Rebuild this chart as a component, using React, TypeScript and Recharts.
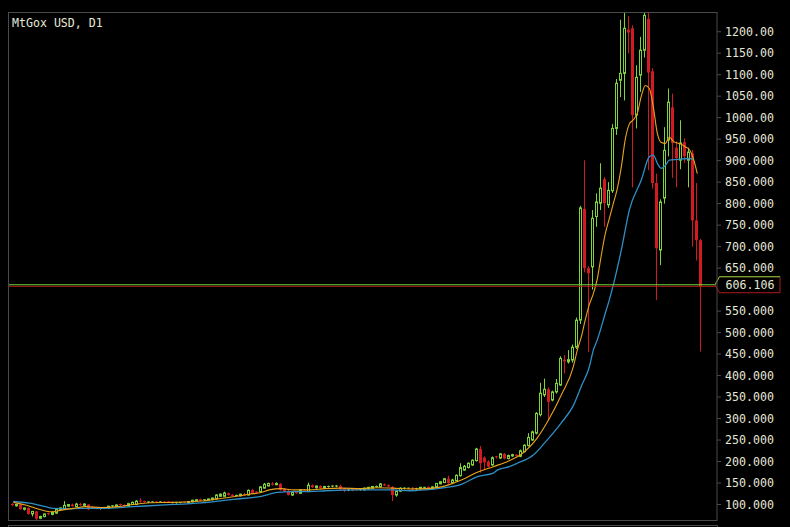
import React from 'react';
import { ComposedChart, Bar, Line, XAxis, YAxis, ReferenceLine } from 'recharts';

const title = 'MtGox USD, D1';

const opens = [100,97,100,89,92,78,84,68,72,79,77,80,88,90,96,100,95,100,98,100,93,92,90,92,91,95,96,100,99,96,100,100,108,107,104,105,106,105,107,106,106,103,104,106,104,106,108,112,109,110,111,113,119,119,126,123,120,120,124,122,134,129,130,138,143,149,146,148,136,132,122,129,126,134,130,145,139,143,138,140,141,141,143,137,132,136,135,133,134,136,138,140,141,147,145,141,122,131,137,137,139,135,136,139,141,137,140,148,151,160,151,155,167,180,186,192,202,229,209,200,192,211,208,218,207,213,216,212,223,237,250,266,309,355,368,343,362,378,437,432,436,466,529,788,650,653,770,801,857,797,830,975,1087,1103,1205,1208,1006,1099,1157,1230,1108,848,692,813,948,1024,930,901,943,901,917,761,715];
const highs = [103,101,102,93,93,85,85,74,79,81,84,92,93,108,101,102,104,104,103,101,96,94,93,93,97,98,100,102,100,104,107,110,114,109,107,107,107,107,108,108,107,106,106,107,108,111,113,114,112,114,116,124,126,130,128,124,123,125,127,135,136,131,143,150,151,152,152,150,138,134,131,131,136,135,151,147,144,145,143,144,144,145,146,139,136,138,137,137,139,141,143,144,150,149,147,143,134,140,140,139,141,139,141,141,142,142,150,155,162,167,160,170,196,192,198,205,232,236,212,203,212,213,220,220,216,218,217,228,240,266,272,315,383,393,372,365,392,445,448,459,472,535,795,901,655,785,824,894,862,850,985,1090,1228,1244,1236,1215,1122,1188,1244,1244,1115,870,810,978,1068,1056,945,994,952,930,925,848,718];
const lows = [96,95,88,86,76,72,64,66,70,75,75,78,85,88,94,95,94,97,97,87,90,89,88,89,90,94,95,97,94,95,99,99,104,104,103,104,104,104,103,104,102,102,103,103,103,105,107,108,108,109,110,112,118,118,121,119,119,119,120,121,126,126,128,137,142,144,145,132,129,121,120,125,125,130,129,138,137,136,137,139,140,140,133,129,131,131,132,132,133,135,137,139,140,143,140,108,118,129,135,136,134,134,135,138,136,136,139,147,150,148,150,154,165,178,184,190,200,174,180,186,190,207,206,205,205,211,212,210,221,235,248,263,305,350,296,340,358,376,405,428,430,462,520,640,455,600,746,785,746,790,825,960,1048,1040,1150,838,975,1060,1140,878,835,576,657,800,910,860,838,880,895,838,700,668,456];
const closes = [99,100,89,92,78,84,67,72,78,77,82,90,92,98,100,96,101,98,101,89,92,90,92,91,96,97,99,98,95,102,105,108,106,105,106,106,105,106,104,105,103,105,105,104,107,110,111,109,111,113,115,122,124,127,122,120,121,124,121,133,127,127,141,147,149,146,149,134,131,122,128,126,134,132,145,140,143,138,142,142,143,143,135,132,134,132,133,135,138,140,142,142,148,144,142,122,131,138,138,138,135,137,140,140,137,141,149,153,160,150,157,168,186,189,196,203,229,196,198,188,209,209,218,207,214,216,213,225,238,256,269,312,359,368,339,362,382,440,433,437,466,529,790,650,638,766,804,836,801,831,975,1080,1103,1208,1198,1006,1094,1157,1238,1105,848,696,804,924,1036,941,906,941,910,920,761,715,606.106];

const fastIdx = [0,3,6,8,10,12,15,18,22,26,30,34,40,47,51,55,59,62,64,67,70,74,78,82,87,91,95,99,103,107,112,116,120,124,127,131,134,137,140,141,142,143,144,145,146,147,148,149,150,151,152,153,154,155,156,157,158,159,160,161,162,163,164,165,166,167,168,169,170,171];
const fastVal = [105,99,90,85,83,87,91,95,93,95,100,104,105,108,113,118,124,128,134,137,134,134,137,138,137,139,138,136,137,141,157,175,188,202,217,255,300,355,420,459,490,530,565,590,625,680,730,765,800,835,885,950,985,995,1010,1050,1075,1068,1025,964,942,940,955,945,941,938,932,926,905,870];
const slowIdx = [0,4,8,10,13,17,22,30,38,47,55,62,66,70,74,78,87,95,99,103,107,112,116,120,121,124,126,130,133,137,140,142,144,145,146,148,149,150,152,154,157,159,160,161,162,163,164,166,169,170];
const slowVal = [107,103,95,91,90,91,91,95,99,104,112,119,128,130,130,132,134,134,132,134,138,147,165,173,180,188,196,215,245,290,330,375,420,459,483,545,576,611,692,785,855,909,913,894,882,889,901,903,905,903];

const yTicks = [100,150,200,250,300,350,400,450,500,550,650,700,750,800,850,900,950,1000,1050,1100,1150,1200];
const bidPrice = 606.106;
const greenLevel = 611.3;
const redLevel = 607.6;

const BULL = '#7fd43b';
const BEAR = '#d11a22';
const FAST = '#e9a31e';
const SLOW = '#2d8fc5';
const FRAME = '#4a4a4a';
const TEXT = '#e6e6d6';
const GREEN_LINE = '#6fd13a';
const RED_LINE = '#b01a1a';
const FONT = '"DejaVu Sans Mono", "Liberation Mono", monospace';

type Row = { i: number; o: number; h: number; l: number; c: number; range: [number, number]; fast: number | null; slow: number | null };

const data: Row[] = opens.map((o, i) => ({
  i, o, h: highs[i], l: lows[i], c: closes[i], range: [lows[i], highs[i]], fast: null, slow: null,
}));
fastIdx.forEach((k, j) => { data[k].fast = fastVal[j]; });
slowIdx.forEach((k, j) => { data[k].slow = slowVal[j]; });

const Candle = (props: any) => {
  const { x, y, width, height, payload } = props;
  if (!payload || height == null) return null;
  const { o, h, l, c } = payload as Row;
  const top0 = height >= 0 ? y : y + height;
  const hh = Math.abs(height);
  const k = h - l > 0 ? hh / (h - l) : 0;
  const py = (v: number) => top0 + (h - v) * k;
  const cx = Math.round(x + width / 2 - 0.5);
  const wx = cx + 0.5;
  const up = c >= o;
  const col = up ? BULL : BEAR;
  const bTop = py(Math.max(o, c));
  const bBot = py(Math.min(o, c));
  const bh = bBot - bTop;
  if (bh < 1) {
    return (
      <g>
        <line x1={wx} x2={wx} y1={py(h)} y2={py(l)} stroke={col} strokeWidth={1} />
        <line x1={cx - 1} x2={cx + 2} y1={bTop} y2={bTop} stroke={col} strokeWidth={1} />
      </g>
    );
  }
  if (up) {
    return (
      <g>
        <line x1={wx} x2={wx} y1={py(h)} y2={bTop} stroke={col} strokeWidth={1} />
        <line x1={wx} x2={wx} y1={bBot} y2={py(l)} stroke={col} strokeWidth={1} />
        <rect x={cx - 0.5} y={bTop} width={2} height={bh} fill="#000" stroke={col} strokeWidth={1} />
      </g>
    );
  }
  return (
    <g>
      <line x1={wx} x2={wx} y1={py(h)} y2={py(l)} stroke={col} strokeWidth={1} />
      <rect x={cx - 1} y={bTop} width={3} height={bh} fill={col} />
    </g>
  );
};

const fmt = (v: number) => (v >= 1000 ? v.toFixed(2) : v.toFixed(3));

const PriceTag = (props: any) => {
  const vb = props && props.viewBox;
  if (!vb) return null;
  const R = vb.x + vb.width;
  const cy = vb.y;
  const left = R + 2.5;
  const right = R + 63;
  const t = cy - 8;
  const b = cy + 8;
  return (
    <g>
      <polygon points={`${R - 2},${cy} ${left},${t} ${right},${t} ${right},${b} ${left},${b}`} fill="#000" stroke={RED_LINE} strokeWidth={1} />
      <polyline points={`${R - 2},${cy} ${left},${t} ${right},${t}`} fill="none" stroke={GREEN_LINE} strokeWidth={1} />
      <text x={R + 8.5} y={cy} dy="0.36em" fill={TEXT} fontFamily={FONT} fontSize={11.6}>{bidPrice.toFixed(3)}</text>
    </g>
  );
};

export default function App() {
  return (
    <div style={{ position: 'absolute', left: 0, top: 0, width: 790, height: 527, background: '#000', overflow: 'hidden' }}>
      <ComposedChart width={790} height={527} data={data} margin={{ top: 12, right: 0, bottom: 7, left: 8 }}>
        <XAxis dataKey="i" type="number" domain={[-1.325, 175.925]} allowDataOverflow hide />
        <YAxis
          orientation="right"
          width={73}
          domain={[63.94, 1245.9]}
          allowDataOverflow
          ticks={yTicks}
          interval={0}
          tickFormatter={fmt}
          tickSize={4}
          tickMargin={4}
          axisLine={{ stroke: FRAME }}
          tickLine={{ stroke: FRAME }}
          tick={{ fill: TEXT, fontFamily: FONT, fontSize: 11.6 }}
        />
        <Bar dataKey="range" barSize={3} shape={<Candle />} isAnimationActive={false} />
        <Line dataKey="slow" type="monotone" stroke={SLOW} strokeWidth={1.3} dot={false} connectNulls isAnimationActive={false} />
        <Line dataKey="fast" type="monotone" stroke={FAST} strokeWidth={1.1} dot={false} connectNulls isAnimationActive={false} />
        <ReferenceLine y={redLevel} stroke={RED_LINE} strokeWidth={1} />
        <ReferenceLine y={greenLevel} stroke={GREEN_LINE} strokeWidth={1} label={(p: any) => <PriceTag {...p} />} />
      </ComposedChart>
      <svg width={790} height={527} style={{ position: 'absolute', left: 0, top: 0, pointerEvents: 'none' }}>
        <line x1={8.5} x2={8.5} y1={12} y2={520.5} stroke={FRAME} />
        <line x1={8} x2={717.5} y1={12.5} y2={12.5} stroke={FRAME} />
        <line x1={8} x2={717.5} y1={520.5} y2={520.5} stroke={FRAME} />
        <line x1={8} x2={717.5} y1={525.5} y2={525.5} stroke={FRAME} />
        <line x1={8.5} x2={8.5} y1={525} y2={527} stroke={FRAME} />
        <line x1={717.5} x2={717.5} y1={525} y2={527} stroke={FRAME} />
      </svg>
      <div style={{ position: 'absolute', left: 12, top: 16, fontFamily: FONT, fontSize: 11.6, lineHeight: '14px', color: TEXT, whiteSpace: 'pre' }}>{title}</div>
    </div>
  );
}
